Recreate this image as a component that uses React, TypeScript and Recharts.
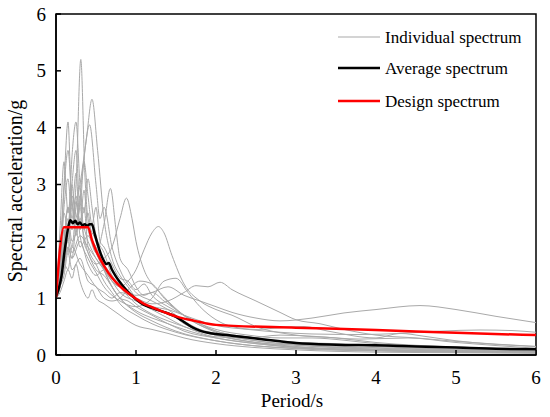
import React from "react";
import { LineChart, Line, XAxis, YAxis, ReferenceArea, Label } from "recharts";

type Pair = [number, number];

const PERIOD_TICKS = [0, 1, 2, 3, 4, 5, 6];
const ACCEL_TICKS = [0, 1, 2, 3, 4, 5, 6];
const LEGEND_LABELS = ["Individual spectrum", "Average spectrum", "Design spectrum"];

// individual records, [period s, Sa g]
const record01: Pair[] = [[0,1.0],[0.05,1.4],[0.1,2.0],[0.15,2.6],[0.2,2.3],[0.25,3.0],[0.31,5.2],[0.36,3.2],[0.4,2.4],[0.5,2.0],[0.6,1.5],[0.7,1.2],[0.8,1.0],[1.0,0.75],[1.2,0.6],[1.5,0.42],[2.0,0.25],[2.5,0.16],[3,0.11],[4,0.07],[5,0.05],[6,0.04]];
const record02: Pair[] = [[0,1.0],[0.05,1.2],[0.1,1.7],[0.15,2.2],[0.2,1.9],[0.25,2.6],[0.3,3.0],[0.38,3.8],[0.45,4.5],[0.52,3.6],[0.6,2.4],[0.7,1.7],[0.8,1.4],[0.9,1.2],[1.0,1.0],[1.2,0.8],[1.4,0.65],[1.6,0.5],[2.0,0.35],[2.5,0.22],[3,0.15],[4,0.09],[5,0.06],[6,0.05]];
const record03: Pair[] = [[0,1.0],[0.05,1.5],[0.1,2.2],[0.15,1.8],[0.2,2.8],[0.27,2.4],[0.33,3.2],[0.42,4.05],[0.5,3.0],[0.55,2.4],[0.6,2.6],[0.7,1.9],[0.8,1.5],[1.0,1.1],[1.2,0.95],[1.4,0.8],[1.6,0.6],[1.8,0.45],[2.0,0.38],[2.5,0.25],[3,0.18],[4,0.12],[5,0.08],[6,0.06]];
const record04: Pair[] = [[0,1.0],[0.05,1.8],[0.1,3.0],[0.15,4.1],[0.2,2.6],[0.25,3.2],[0.3,2.2],[0.35,2.6],[0.4,1.9],[0.5,1.6],[0.6,1.3],[0.7,1.1],[0.8,0.9],[1.0,0.7],[1.2,0.55],[1.5,0.4],[2.0,0.25],[2.5,0.16],[3,0.12],[4,0.08],[5,0.05],[6,0.04]];
const record05: Pair[] = [[0,1.0],[0.05,1.5],[0.1,2.5],[0.15,2.2],[0.2,3.5],[0.25,4.1],[0.3,3.0],[0.35,2.5],[0.4,3.1],[0.45,2.6],[0.5,2.1],[0.6,1.8],[0.7,1.4],[0.8,1.25],[1.0,1.0],[1.2,0.8],[1.4,0.75],[1.6,0.55],[2.0,0.35],[2.5,0.22],[3,0.17],[4,0.1],[5,0.07],[6,0.05]];
const record06: Pair[] = [[0,1.0],[0.05,2.2],[0.1,3.4],[0.15,2.5],[0.2,3.0],[0.25,2.2],[0.3,2.6],[0.35,2.0],[0.4,1.8],[0.5,1.5],[0.6,1.4],[0.7,1.2],[0.8,1.0],[0.9,0.95],[1.0,0.85],[1.2,0.7],[1.4,0.55],[1.6,0.45],[2.0,0.3],[2.5,0.2],[3,0.13],[4,0.08],[5,0.06],[6,0.04]];
const record07: Pair[] = [[0,1.0],[0.05,1.2],[0.1,1.6],[0.15,1.9],[0.2,1.7],[0.25,2.2],[0.3,1.9],[0.4,2.1],[0.5,1.8],[0.6,2.3],[0.68,2.93],[0.75,2.2],[0.8,1.7],[0.9,1.5],[1.0,1.2],[1.1,1.05],[1.2,1.1],[1.35,0.95],[1.5,0.8],[1.7,0.6],[2.0,0.42],[2.5,0.3],[3,0.22],[3.5,0.2],[4,0.15],[5,0.1],[6,0.07]];
const record08: Pair[] = [[0,1.0],[0.05,1.3],[0.1,1.9],[0.15,2.4],[0.2,2.0],[0.3,2.3],[0.4,1.8],[0.5,1.6],[0.6,1.7],[0.7,1.9],[0.8,2.4],[0.88,2.76],[0.95,2.4],[1.0,2.0],[1.1,1.5],[1.2,1.25],[1.3,1.1],[1.4,0.95],[1.6,0.7],[1.8,0.55],[2.0,0.42],[2.5,0.3],[3,0.2],[4,0.13],[5,0.09],[6,0.06]];
const record09: Pair[] = [[0,1.0],[0.05,1.2],[0.1,1.5],[0.15,1.9],[0.2,1.7],[0.3,2.0],[0.4,1.6],[0.5,1.4],[0.6,1.5],[0.7,1.3],[0.8,1.2],[0.9,1.3],[1.0,1.5],[1.1,1.85],[1.2,2.15],[1.28,2.26],[1.35,2.15],[1.45,1.75],[1.6,1.25],[1.8,0.95],[2.0,0.8],[2.2,0.7],[2.5,0.5],[3,0.35],[3.5,0.3],[4,0.22],[5,0.14],[6,0.1]];
const record10: Pair[] = [[0,1.0],[0.05,1.2],[0.1,1.7],[0.15,2.0],[0.2,1.8],[0.3,2.1],[0.4,1.9],[0.5,1.7],[0.6,1.5],[0.7,1.3],[0.8,1.2],[1.0,1.05],[1.2,1.1],[1.4,1.2],[1.6,1.05],[1.8,0.95],[2.0,0.85],[2.2,0.75],[2.5,0.65],[2.8,0.6],[3.2,0.65],[3.6,0.74],[4.0,0.8],[4.55,0.87],[5.0,0.8],[5.5,0.68],[6,0.57]];
const record11: Pair[] = [[0,1.0],[0.05,1.3],[0.1,1.6],[0.15,1.5],[0.2,1.9],[0.3,1.6],[0.4,1.4],[0.5,1.2],[0.6,1.1],[0.7,1.0],[0.8,1.1],[1.0,1.0],[1.2,0.9],[1.4,0.95],[1.6,1.1],[1.75,1.22],[1.9,1.2],[2.05,1.28],[2.2,1.15],[2.5,0.95],[2.8,0.75],[3.0,0.62],[3.3,0.55],[3.6,0.45],[4,0.35],[4.5,0.3],[5,0.24],[6,0.15]];
const record12: Pair[] = [[0,1.0],[0.05,1.4],[0.1,2.0],[0.15,2.6],[0.2,2.2],[0.25,2.7],[0.3,2.1],[0.4,1.7],[0.5,1.45],[0.6,1.2],[0.7,1.05],[0.8,0.95],[1.0,0.85],[1.2,1.0],[1.35,1.3],[1.5,1.35],[1.65,1.1],[1.8,0.85],[2.0,0.62],[2.2,0.5],[2.5,0.45],[2.8,0.48],[3.1,0.5],[3.4,0.42],[4,0.3],[4.3,0.38],[4.6,0.33],[5,0.25],[6,0.15]];
const record13: Pair[] = [[0,1.0],[0.05,1.2],[0.1,1.4],[0.15,1.8],[0.2,1.5],[0.3,1.7],[0.4,1.3],[0.5,1.2],[0.6,1.0],[0.7,0.95],[0.8,1.0],[0.9,1.15],[1.05,1.3],[1.2,1.25],[1.35,1.0],[1.5,0.8],[1.7,0.6],[2.0,0.4],[2.5,0.25],[3,0.18],[4,0.1],[5,0.07],[6,0.05]];
const record14: Pair[] = [[0,1.0],[0.05,1.1],[0.1,1.3],[0.15,1.5],[0.2,1.35],[0.25,1.6],[0.3,1.3],[0.35,1.1],[0.4,1.0],[0.45,1.15],[0.5,1.0],[0.6,0.9],[0.7,0.8],[0.8,0.7],[0.9,0.6],[1.0,0.52],[1.2,0.45],[1.4,0.38],[1.6,0.3],[2.0,0.2],[2.5,0.13],[3,0.09],[4,0.05],[5,0.04],[6,0.03]];
const record15: Pair[] = [[0,1.0],[0.05,1.6],[0.1,2.6],[0.15,3.1],[0.2,2.4],[0.25,2.8],[0.3,2.3],[0.35,2.9],[0.4,2.2],[0.5,1.9],[0.6,1.6],[0.7,1.4],[0.8,1.2],[1.0,0.9],[1.2,0.72],[1.4,0.6],[1.6,0.5],[2.0,0.32],[2.4,0.3],[2.8,0.35],[3.2,0.33],[3.8,0.28],[4.4,0.3],[5,0.22],[6,0.12]];
const record16: Pair[] = [[0,1.0],[0.05,1.3],[0.1,1.9],[0.15,2.2],[0.2,2.6],[0.25,2.1],[0.3,2.4],[0.4,2.0],[0.5,1.7],[0.6,1.5],[0.7,1.3],[0.8,1.1],[1.0,0.95],[1.2,0.85],[1.4,0.8],[1.6,0.7],[1.8,0.6],[2.0,0.52],[2.4,0.45],[2.8,0.4],[3.2,0.37],[3.8,0.36],[4.3,0.38],[4.8,0.42],[5.3,0.44],[5.7,0.43],[6,0.4]];
const record17: Pair[] = [[0,1.0],[0.05,1.7],[0.1,2.9],[0.15,3.6],[0.2,2.7],[0.25,2.3],[0.3,2.8],[0.35,2.2],[0.4,2.5],[0.45,2.0],[0.5,1.8],[0.6,1.5],[0.7,1.2],[0.8,1.0],[1.0,0.78],[1.2,0.65],[1.4,0.55],[1.6,0.42],[2.0,0.3],[2.5,0.2],[3,0.14],[4,0.09],[5,0.06],[6,0.05]];
const record18: Pair[] = [[0,1.0],[0.05,1.4],[0.1,2.2],[0.15,2.0],[0.2,3.0],[0.25,3.6],[0.3,2.6],[0.35,3.4],[0.4,2.8],[0.45,2.3],[0.5,2.6],[0.55,2.0],[0.6,1.9],[0.7,1.6],[0.8,1.35],[0.9,1.3],[1.0,1.15],[1.1,1.25],[1.2,1.05],[1.4,0.85],[1.6,0.7],[1.8,0.55],[2.0,0.45],[2.4,0.35],[2.8,0.3],[3.2,0.3],[3.6,0.26],[4,0.2],[5,0.14],[6,0.09]];

const averageSpectrum: Pair[] = [[0,1.03],[0.03,1.15],[0.07,1.4],[0.1,1.75],[0.13,2.05],[0.16,2.3],[0.18,2.37],[0.21,2.32],[0.24,2.36],[0.27,2.3],[0.3,2.33],[0.33,2.28],[0.36,2.3],[0.39,2.27],[0.42,2.3],[0.45,2.3],[0.48,2.15],[0.52,1.95],[0.56,1.78],[0.6,1.65],[0.63,1.6],[0.66,1.62],[0.7,1.5],[0.75,1.38],[0.8,1.28],[0.85,1.19],[0.9,1.11],[1.0,0.98],[1.1,0.88],[1.2,0.83],[1.3,0.78],[1.4,0.73],[1.5,0.67],[1.6,0.58],[1.7,0.49],[1.8,0.43],[1.9,0.39],[2.0,0.37],[2.2,0.34],[2.5,0.29],[2.8,0.24],[3.0,0.21],[3.5,0.18],[4.0,0.17],[4.5,0.15],[5.0,0.13],[5.5,0.11],[6.0,0.1]];

const designSpectrum: Pair[] = [[0,1.01],[0.1,2.25],[0.4,2.25],[0.45,2.02],[0.5,1.84],[0.6,1.57],[0.7,1.36],[0.8,1.21],[0.9,1.09],[1.0,0.99],[1.1,0.9],[1.2,0.84],[1.3,0.78],[1.4,0.73],[1.5,0.68],[1.6,0.64],[1.7,0.61],[1.8,0.58],[1.9,0.55],[2.0,0.53],[3.0,0.48],[4.0,0.44],[5.0,0.39],[6.0,0.35]];

const RECORDS = [record01, record02, record03, record04, record05, record06, record07, record08, record09, record10, record11, record12, record13, record14, record15, record16, record17, record18];

const toRows = (pairs: Pair[]) => pairs.map(([period, sa]) => ({ period, sa }));

const FONT = '"Liberation Serif", "Times New Roman", serif';
const GRAY = "#a9a9a9";

const LegendBox = () => {
  const strokes = [
    { color: GRAY, width: 1.2 },
    { color: "#000000", width: 2.5 },
    { color: "#ff0000", width: 2.5 },
  ];
  const rows = [17, 48, 81];
  return (
    <svg width={210} height={100} style={{ position: "absolute", left: 330, top: 20 }}>
      {LEGEND_LABELS.map((label, i) => (
        <g key={label}>
          <line x1={8} x2={50} y1={rows[i]} y2={rows[i]} stroke={strokes[i].color} strokeWidth={strokes[i].width} />
          <text x={55} y={rows[i]} dominantBaseline="central" fontFamily={FONT} fontSize={17} fill="#000">
            {label}
          </text>
        </g>
      ))}
    </svg>
  );
};

const BottomTick = (props: any) => {
  const { x, y, payload } = props;
  return (
    <text x={x} y={y} dy="0.71em" textAnchor="middle" fontFamily={FONT} fontSize={19} fill="#000">
      {payload.value}
    </text>
  );
};

const LeftTick = (props: any) => {
  const { x, y, payload } = props;
  return (
    <text x={x} y={y} dy="0.35em" textAnchor="end" fontFamily={FONT} fontSize={19} fill="#000">
      {payload.value}
    </text>
  );
};

export default function App() {
  return (
    <div style={{ position: "absolute", left: 0, top: 0, width: 550, height: 417, background: "#fff" }}>
      <LineChart width={550} height={417} margin={{ top: 14, right: 14, left: 0, bottom: 0 }}>
        <XAxis
          type="number"
          dataKey="period"
          domain={[0, 6]}
          ticks={PERIOD_TICKS}
          allowDataOverflow
          height={62}
          tickSize={-5}
          tickMargin={21}
          axisLine={{ stroke: "#000", strokeWidth: 1.5 }}
          tickLine={{ stroke: "#000", strokeWidth: 1.5 }}
          tick={<BottomTick />}
        >
          <Label
            content={() => (
              <text x={292} y={407} textAnchor="middle" fontFamily={FONT} fontSize={19} fill="#000">
                Period/s
              </text>
            )}
          />
        </XAxis>
        <YAxis
          type="number"
          domain={[0, 6]}
          ticks={ACCEL_TICKS}
          allowDataOverflow
          width={56}
          tickSize={-5}
          tickMargin={15}
          axisLine={{ stroke: "#000", strokeWidth: 1.5 }}
          tickLine={{ stroke: "#000", strokeWidth: 1.5 }}
          tick={<LeftTick />}
        >
          <Label
            content={() => (
              <text
                x={15}
                y={191}
                transform="rotate(-90 15 191)"
                textAnchor="middle"
                dominantBaseline="central"
                fontFamily={FONT}
                fontSize={20}
                fill="#000"
              >
                Spectral acceleration/g
              </text>
            )}
          />
        </YAxis>
        <ReferenceArea x1={0} x2={6} y1={0} y2={6} fill="none" stroke="#000" strokeWidth={1.5} ifOverflow="visible" />
        {RECORDS.map((rec, i) => (
          <Line
            key={`rec${i}`}
            data={toRows(rec)}
            dataKey="sa"
            type="monotone"
            stroke={GRAY}
            strokeWidth={1}
            dot={false}
            activeDot={false}
            isAnimationActive={false}
          />
        ))}
        <Line
          data={toRows(averageSpectrum)}
          dataKey="sa"
          type="monotone"
          stroke="#000"
          strokeWidth={2.5}
          dot={false}
          activeDot={false}
          isAnimationActive={false}
        />
        <Line
          data={toRows(designSpectrum)}
          dataKey="sa"
          type="monotone"
          stroke="#ff0000"
          strokeWidth={2.5}
          dot={false}
          activeDot={false}
          isAnimationActive={false}
        />
      </LineChart>
      <LegendBox />
    </div>
  );
}
